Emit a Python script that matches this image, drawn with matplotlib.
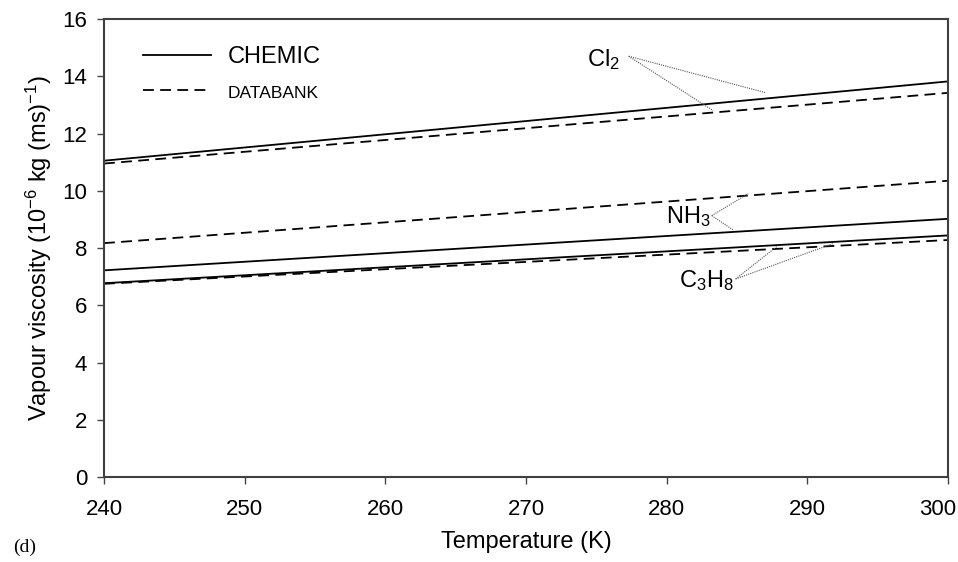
import matplotlib.pyplot as plt
from matplotlib.transforms import ScaledTranslation

# temperature end points (K)
temps = [240, 300]

# vapour viscosity, 10^-6 kg (ms)^-1
cl2_chemic = [11.05, 13.82]
cl2_databank = [10.95, 13.42]
nh3_chemic = [7.22, 9.02]
nh3_databank = [8.17, 10.35]
c3h8_chemic = [6.77, 8.44]
c3h8_databank = [6.75, 8.28]

# label anchors (right edge) and pointer lines (data coords)
labels = ["Cl$_2$", "NH$_3$", "C$_3$H$_8$"]
label_xy = [(276.7, 14.6), (283.1, 9.1), (284.8, 6.85)]
pointer_start = [(277.3, 14.7), (283.2, 9.13), (284.9, 6.92)]
pointer_ends = [
    [(287.0, 13.43), (283.3, 12.80)],
    [(285.8, 9.90), (284.7, 8.64)],
    [(287.9, 8.08), (291.8, 8.15)],
]


def main():
    plt.rcParams["font.family"] = ["Liberation Sans", "DejaVu Sans"]
    plt.rcParams["mathtext.fontset"] = "custom"
    plt.rcParams["mathtext.rm"] = "Liberation Sans"
    plt.rcParams["mathtext.it"] = "Liberation Sans"
    fig = plt.figure(figsize=(9.58, 5.62), dpi=100)
    ax = fig.add_axes([0.1086, 0.1512, 0.881, 0.815])

    dash = (0, (6, 3.5))
    lw = 1.3
    ax.plot(temps, cl2_chemic, color="black", lw=lw, label="CHEMIC")
    ax.plot(temps, cl2_databank, color="black", lw=lw, linestyle=dash, label="DATABANK")
    ax.plot(temps, nh3_chemic, color="black", lw=lw)
    ax.plot(temps, nh3_databank, color="black", lw=lw, linestyle=dash)
    ax.plot(temps, c3h8_chemic, color="black", lw=lw)
    ax.plot(temps, c3h8_databank, color="black", lw=lw, linestyle=dash)

    for text, (lx, ly), (sx, sy), ends in zip(labels, label_xy, pointer_start, pointer_ends):
        ax.text(lx, ly, text, fontsize=17, ha="right", va="center")
        for ex, ey in ends:
            ax.plot([sx, ex], [sy, ey], color="#555555", lw=0.8, linestyle=(0, (1, 1)))

    ax.set_xlim(240, 300)
    ax.set_ylim(0, 16)
    ax.set_xticks(range(240, 301, 10))
    ax.set_yticks(range(0, 17, 2))
    ax.tick_params(direction="out", length=5, width=1, labelsize=16, pad=7,
                   color="#444444", labelcolor="black")
    ax.tick_params(axis="x", pad=11)
    for spine in ax.spines.values():
        spine.set_linewidth(1.5)
        spine.set_color("#404040")

    # keep the last x label inside the figure, as in the original
    last = ax.get_xticklabels()[-1]
    last.set_transform(last.get_transform() + ScaledTranslation(-10 / 100, 0, fig.dpi_scale_trans))

    ax.set_xlabel("Temperature (K)", fontsize=17, labelpad=8)
    ax.set_ylabel("Vapour viscosity (10$^{-6}$ kg (ms)$^{-1}$)", fontsize=17, labelpad=6)

    leg = ax.legend(loc="upper left", bbox_to_anchor=(0.035, 0.961), frameon=False,
                    handlelength=2.9, handletextpad=0.7, labelspacing=0.55, fontsize=17,
                    borderaxespad=0)
    leg.get_texts()[1].set_fontsize(12.5)

    fig.text(0.014, 0.018, "(d)", fontsize=14, family=["Liberation Serif", "DejaVu Serif"])

    fig.savefig("out.png", dpi=100)


if __name__ == "__main__":
    main()
